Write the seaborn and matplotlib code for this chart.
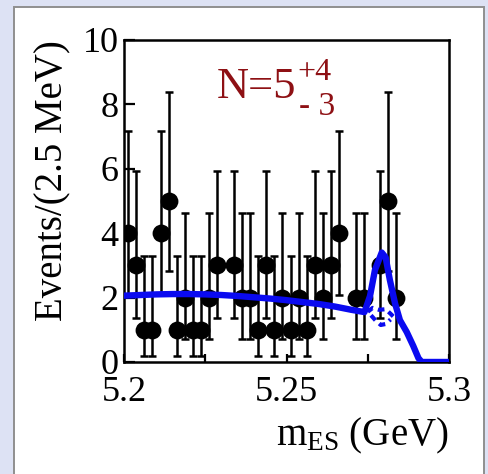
import numpy as np
import pandas as pd
import matplotlib
matplotlib.use("Agg")
import matplotlib.pyplot as plt
from matplotlib.patches import Rectangle
import seaborn as sns

# ---- data ---------------------------------------------------------------
# bin centres of the 2.5 MeV m_ES histogram (5.20 - 5.30 GeV)
bin_centers = [5.20125 + 0.0025 * i for i in range(40)]
counts = [4, 3, 1, 1, 4, 5, 1, 2, 1, 1,
          2, 3, 0, 3, 2, 2, 1, 3, 1, 2,
          1, 2, 1, 3, 2, 3, 4, 0, 2, 2,
          0, 3, 5, 2, 0, 0, 0, 0, 0, 0]

# 68.3% central Poisson (Garwood) limits for small counts
poisson_low = {1: 0.173, 2: 0.708, 3: 1.367, 4: 2.086, 5: 2.840}
poisson_high = {1: 3.300, 2: 4.638, 3: 5.918, 4: 7.163, 5: 8.382}

# total fit projection (background + signal)
fit_mes = [5.2000, 5.2050, 5.2100, 5.2150, 5.2200, 5.2250, 5.2300, 5.2350,
           5.2400, 5.2450, 5.2500, 5.2550, 5.2600, 5.2650, 5.2700, 5.2740,
           5.2757, 5.2772, 5.2793, 5.2805, 5.2818, 5.2834, 5.2849, 5.2870,
           5.2890, 5.2906, 5.2916, 5.3000]
fit_total = [2.06, 2.08, 2.10, 2.11, 2.11, 2.10, 2.08, 2.05,
             2.01, 1.97, 1.92, 1.86, 1.80, 1.72, 1.62, 1.55,
             2.05, 2.85, 3.40, 3.25, 2.55, 1.82, 1.30, 0.93,
             0.50, 0.12, 0.00, 0.00]

# background components under the peak (dashed)
bkg_a_mes = [5.2750, 5.2765, 5.2785, 5.2805, 5.2820, 5.2835]
bkg_a = [1.56, 1.68, 1.62, 1.64, 1.50, 1.35]
bkg_b_mes = [5.2760, 5.2775, 5.2790, 5.2805, 5.2820]
bkg_b = [1.45, 1.28, 1.15, 1.18, 1.32]

yield_text = "N=5"
yield_up = "+4"
yield_down = "- 3"

# ---- style --------------------------------------------------------------
sns.set_theme(style="ticks")
plt.rcParams["font.family"] = ["Liberation Serif", "DejaVu Serif"]
plt.rcParams["mathtext.fontset"] = "custom"
plt.rcParams["mathtext.rm"] = "Liberation Serif"
plt.rcParams["mathtext.it"] = "Liberation Serif:italic"

W, H, DPI = 489, 474, 100
fig = plt.figure(figsize=(W / DPI, H / DPI), dpi=DPI, facecolor="#dde2f4")

# white slide panel behind the plot
fig.patches.append(Rectangle((14 / W, -0.05), (484 - 14) / W, (H - 7) / H + 0.05,
                             transform=fig.transFigure, facecolor="white",
                             edgecolor="#8f8f8f", linewidth=1.4, zorder=-5))

ax = fig.add_axes([124 / W, 1 - 362 / H, (449 - 124) / W, (362 - 40) / H])
ax.set_zorder(2)
ax.set_facecolor("white")

df = pd.DataFrame({"mes": bin_centers, "n": counts})
df = df[df["n"] > 0].copy()
df["lo"] = df["n"].map(poisson_low)
df["hi"] = df["n"].map(poisson_high)

ax.errorbar(df["mes"], df["n"],
            yerr=[df["n"] - df["lo"], df["hi"] - df["n"]],
            fmt="none", ecolor="black", elinewidth=1.8, capsize=2.8,
            capthick=1.8, zorder=2)
sns.scatterplot(data=df, x="mes", y="n", ax=ax, color="black", s=165,
                edgecolor="black", linewidth=0, zorder=3, legend=False)

blue = "#0a0af0"
sns.lineplot(x=fit_mes, y=fit_total, ax=ax, color=blue, linewidth=4.6,
             zorder=4, estimator=None, sort=False)
sns.lineplot(x=bkg_a_mes, y=bkg_a, ax=ax, color=blue, linewidth=3.0,
             zorder=4, estimator=None, sort=False)
ax.lines[-1].set_dashes([1.6, 1.2])
sns.lineplot(x=bkg_b_mes, y=bkg_b, ax=ax, color=blue, linewidth=3.0,
             zorder=4, estimator=None, sort=False)
ax.lines[-1].set_dashes([1.6, 1.2])

ax.set_xlim(5.2, 5.3)
ax.set_ylim(0, 10)
ax.set_xticks([5.2, 5.25, 5.3])
ax.set_xticklabels(["5.2", "5.25", "5.3"])
ax.set_xticks([5.225, 5.275], minor=True)
ax.set_yticks([0, 2, 4, 6, 8, 10])
ax.tick_params(axis="both", which="both", direction="in", color="black",
               width=1.6, labelsize=26, labelcolor="black")
ax.tick_params(axis="y", which="major", length=8, pad=4.0)
ax.tick_params(axis="x", which="both", length=6, pad=10)
for s in ax.spines.values():
    s.set_color("black")
    s.set_linewidth(1.8)
    s.set_visible(True)

ax.set_xlabel(r"$\mathrm{m}_{\mathrm{ES}}$ (GeV)", fontsize=28, loc="right",
              labelpad=5, color="black")
ax.set_ylabel("Events/(2.5 MeV)", fontsize=28, loc="top", labelpad=8,
              color="black")

red = "#8e1014"
ax.text(0.286, 0.82, yield_text, transform=ax.transAxes, fontsize=32,
        color=red, ha="left", va="baseline")
ax.text(0.534, 0.876, yield_up, transform=ax.transAxes, fontsize=23,
        color=red, ha="left", va="baseline")
ax.text(0.537, 0.767, yield_down, transform=ax.transAxes, fontsize=24,
        color=red, ha="left", va="baseline")

fig.savefig("out.png", dpi=DPI, facecolor=fig.get_facecolor())
